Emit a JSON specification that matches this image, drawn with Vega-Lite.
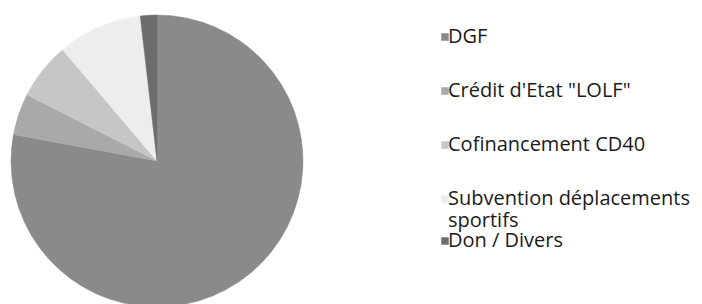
{
  "$schema": "https://vega.github.io/schema/vega-lite/v6.json",
  "width": 300,
  "height": 290,
  "padding": {"left": 7, "top": 14, "right": 0, "bottom": 0},
  "background": "white",
  "view": {"stroke": null},
  "data": {
    "values": [
      {"source": "DGF", "value": 280.5},
      {"source": "Crédit d'Etat \"LOLF\"", "value": 16.5},
      {"source": "Cofinancement CD40", "value": 22.7},
      {"source": "Subvention déplacements sportifs", "value": 33.7},
      {"source": "Don / Divers", "value": 6.6}
    ]
  },
  "transform": [
    {"window": [{"op": "row_number", "as": "rang"}]}
  ],
  "mark": {"type": "arc", "radius": 146, "strokeWidth": 0.5},
  "encoding": {
    "theta": {"field": "value", "type": "quantitative", "stack": true},
    "order": {"field": "rang", "type": "quantitative", "sort": "ascending"},
    "fill": {
      "field": "source",
      "type": "nominal",
      "scale": {
        "domain": ["DGF", "Crédit d'Etat \"LOLF\"", "Cofinancement CD40", "Subvention déplacements sportifs", "Don / Divers"],
        "range": ["#8a8a8a", "#a9a9a9", "#c6c6c6", "#ededed", "#6c6c6c"]
      },
      "legend": {
        "title": null,
        "orient": "none",
        "legendX": 428,
        "legendY": 11,
        "values": ["DGF", "Crédit d'Etat \"LOLF\"", "Cofinancement CD40", "Subvention déplacements sportifs"],
        "symbolType": "square",
        "symbolSize": 56,
        "symbolStrokeWidth": 0,
        "labelFont": "Open Sans",
        "labelFontSize": 20,
        "labelColor": "#1a1a1a",
        "labelLimit": 400,
        "labelOffset": -7,
        "labelBaseline": "top",
        "rowPadding": 34,
        "labelExpr": "datum.label == 'Subvention déplacements sportifs' ? ['Subvention déplacements', 'sportifs'] : datum.label",
        "encode": {"labels": {"update": {"dy": {"value": -10}}}}
      }
    },
    "stroke": {
      "field": "source",
      "type": "nominal",
      "scale": {
        "domain": ["Don / Divers", "DGF", "Crédit d'Etat \"LOLF\"", "Cofinancement CD40", "Subvention déplacements sportifs"],
        "range": ["#6c6c6c", "#8a8a8a", "#a9a9a9", "#c6c6c6", "#ededed"]
      },
      "legend": {
        "title": null,
        "orient": "none",
        "legendX": 428,
        "legendY": 215,
        "values": ["Don / Divers"],
        "symbolType": "square",
        "symbolSize": 56,
        "symbolStrokeWidth": 0,
        "symbolFillColor": "#6c6c6c",
        "labelFont": "Open Sans",
        "labelFontSize": 20,
        "labelColor": "#1a1a1a",
        "labelLimit": 400,
        "labelOffset": -7,
        "labelBaseline": "top",
        "encode": {"labels": {"update": {"dy": {"value": -10}}}}
      }
    }
  }
}
